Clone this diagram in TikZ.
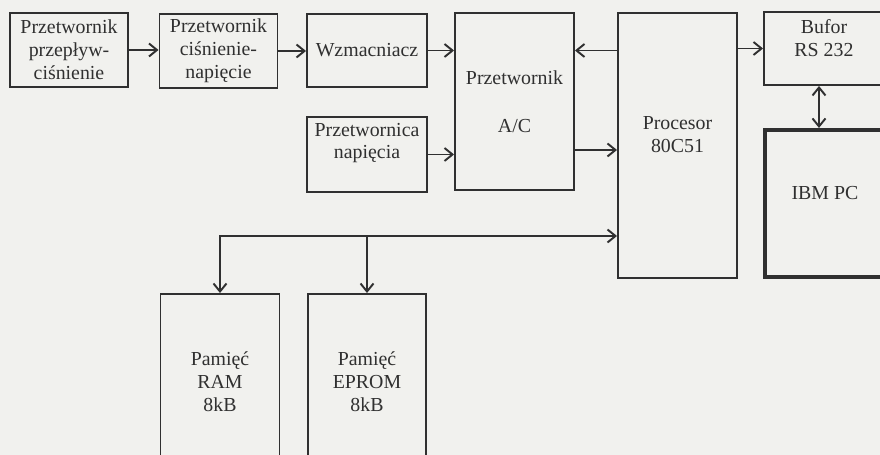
\documentclass[tikz,border=0pt]{standalone}
\usepackage{fontspec}
\setmainfont{Liberation Serif}
\usetikzlibrary{arrows.meta}
\definecolor{paper}{RGB}{241,241,238}
\definecolor{ink}{RGB}{48,48,48}
\tikzset{
  box/.style 2 args={draw=ink,line width=1.1pt,inner sep=1pt,align=center,text=ink,
    minimum width=#1*0.02cm,minimum height=#2*0.02cm},
  lbl/.style={align=center,text=ink,yshift=#1},
  sig/.style={draw=ink,line width=1.1pt,-{Straight Barb[length=1.6mm,width=2.6mm]}},
  both/.style={sig,{Straight Barb[length=1.6mm,width=2.6mm]}-{Straight Barb[length=1.6mm,width=2.6mm]}}
}

\begin{document}
\begin{tikzpicture}[x=0.02cm,y=-0.02cm,font=\fontsize{11.3}{13}\selectfont]
    \useasboundingbox[fill=paper] (0,0) rectangle (880,455);
    \clip (0,0) rectangle (880,455);
    % measuring chain
    \node[box={118}{74}] (flow) at (69,50) {Przetwornik\\przepływ-\\ciśnienie};
    \node[box={118}{74}] (press) at (218.5,51) {Przetwornik\\ciśnienie-\\napięcie};
    \node[box={120}{73}] (amp) at (367,50.5) {Wzmacniacz};
    \node[box={120}{75},label={[lbl=0.23cm]center:{Przetwornica\\napięcia}}] (conv) at (367,154.5) {};
    \node[box={119}{177}] (adc) at (514.5,101.5) {Przetwornik\\[0.5cm]A/C};
    \node[box={119}{265},label={[lbl=0.22cm]center:{Procesor\\80C51}}] (cpu) at (677.5,145.5) {};
    % link to the PC
    \node[box={120}{73},label={[lbl=0.2cm]center:{Bufor\\RS 232}}] (buf) at (824,48.5) {};
    \node[box={120}{147},line width=2.3pt,label={[lbl=0.21cm]center:IBM PC}] (pc) at (825,203.5) {};
    % memories
    \node[box={119}{196},label={[lbl=0.2cm]center:{Pamięć\\RAM\\8kB}}] (ram) at (220,392) {};
    \node[box={118}{196},label={[lbl=0.2cm]center:{Pamięć\\EPROM\\8kB}}] (eprom) at (367,392) {};

    \draw[sig] (flow.east) -- (press.west |- flow.east);
    \draw[sig] (press.east) -- (amp.west |- press.east);
    \draw[sig] (amp.east) -- (adc.west |- amp.east);
    \draw[sig] (conv.east) -- (adc.west |- conv.east);
    \draw[sig] (cpu.west |- amp.east) -- (adc.east |- amp.east);
    \coordinate (adcout) at ([yshift=-0.97cm]adc.east);
    \draw[sig] (adcout) -- (adcout -| cpu.west);
    \draw[sig] (cpu.east |- buf.west) -- (buf.west);
    \coordinate (link) at ([xshift=-0.1cm]buf.south);
    \draw[both] (link) -- (link |- pc.north);
    % bus
    \coordinate (bus) at (220,236);
    \draw[both] (ram.north) -- (bus) -- (bus -| cpu.west);
    \draw[sig] (eprom.north |- bus) -- (eprom.north);
\end{tikzpicture}
\end{document}
